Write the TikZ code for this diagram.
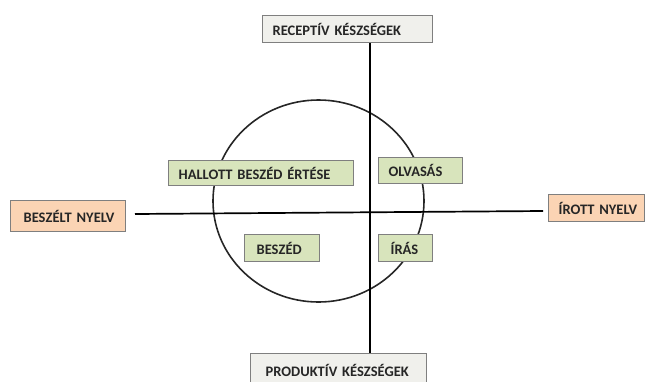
\documentclass[tikz,border=0pt]{standalone}
\usepackage{fontspec}
\setmainfont{Carlito}
\usetikzlibrary{shapes.geometric}
\definecolor{peach}{HTML}{FBD4B4}
\definecolor{lgreen}{HTML}{D8E4BC}
\definecolor{lgray}{HTML}{F0F0EC}
\definecolor{bordergray}{HTML}{7F7F7F}
\begin{document}
\begin{tikzpicture}[x=1pt,y=-1pt,
  lbl/.style={draw=bordergray,line width=1.3pt,font=\bfseries\fontsize{14.5}{16}\selectfont,text=black!85,
     inner xsep=0pt,inner ysep=0pt,anchor=north west,align=left},
  graybox/.style={lbl,fill=lgray},
  peachbox/.style={lbl,fill=peach},
  greenbox/.style={lbl,fill=lgreen},
  axis/.style={line width=1.7pt,black}]
\useasboundingbox (0,0) rectangle (648,381);
\node[draw=black!85,line width=1.6pt,ellipse,minimum width=211pt,minimum height=202pt,inner sep=0pt] (c) at (318.5,201) {};
\coordinate (L) at (135,214);
\coordinate (R) at (543,211);
\node[graybox,minimum width=170pt,minimum height=27pt,text width=160pt,inner xsep=5pt] (top) at (262,15) {\hspace*{5pt}RECEPTÍV KÉSZSÉGEK};
\node[graybox,minimum width=176pt,minimum height=34pt,text width=166pt,inner xsep=5pt] (bot) at (250,353) {\hspace*{10pt}PRODUKTÍV KÉSZSÉGEK};
\draw[axis] (top.south -| 370,0) -- (bot.north -| 370,0);
\draw[axis] (L) -- (R);
\node[peachbox,minimum width=115pt,minimum height=31pt,text width=105pt,inner xsep=5pt] (bn) at (10,200) {\hspace*{8pt}BESZÉLT NYELV};
\node[peachbox,minimum width=96pt,minimum height=27pt,text width=86pt,inner xsep=5pt] (in) at (548,194) {\hspace*{5pt}ÍROTT NYELV};
\node[greenbox,minimum width=185pt,minimum height=25pt,text width=175pt,inner xsep=5pt] (hb) at (168,160) {\hspace*{5pt}HALLOTT BESZÉD ÉRTÉSE};
\node[greenbox,minimum width=75pt,minimum height=27pt,text width=65pt,inner xsep=5pt] (bs) at (244,234) {\hspace*{7pt}BESZÉD};
\node[greenbox,minimum width=84pt,minimum height=26pt,text width=74pt,inner xsep=5pt] (ol) at (378,157) {\hspace*{5pt}OLVASÁS};
\node[greenbox,minimum width=54pt,minimum height=27pt,text width=44pt,inner xsep=5pt] (ir) at (378,234) {\hspace*{7pt}ÍRÁS};
\end{tikzpicture}
\end{document}
